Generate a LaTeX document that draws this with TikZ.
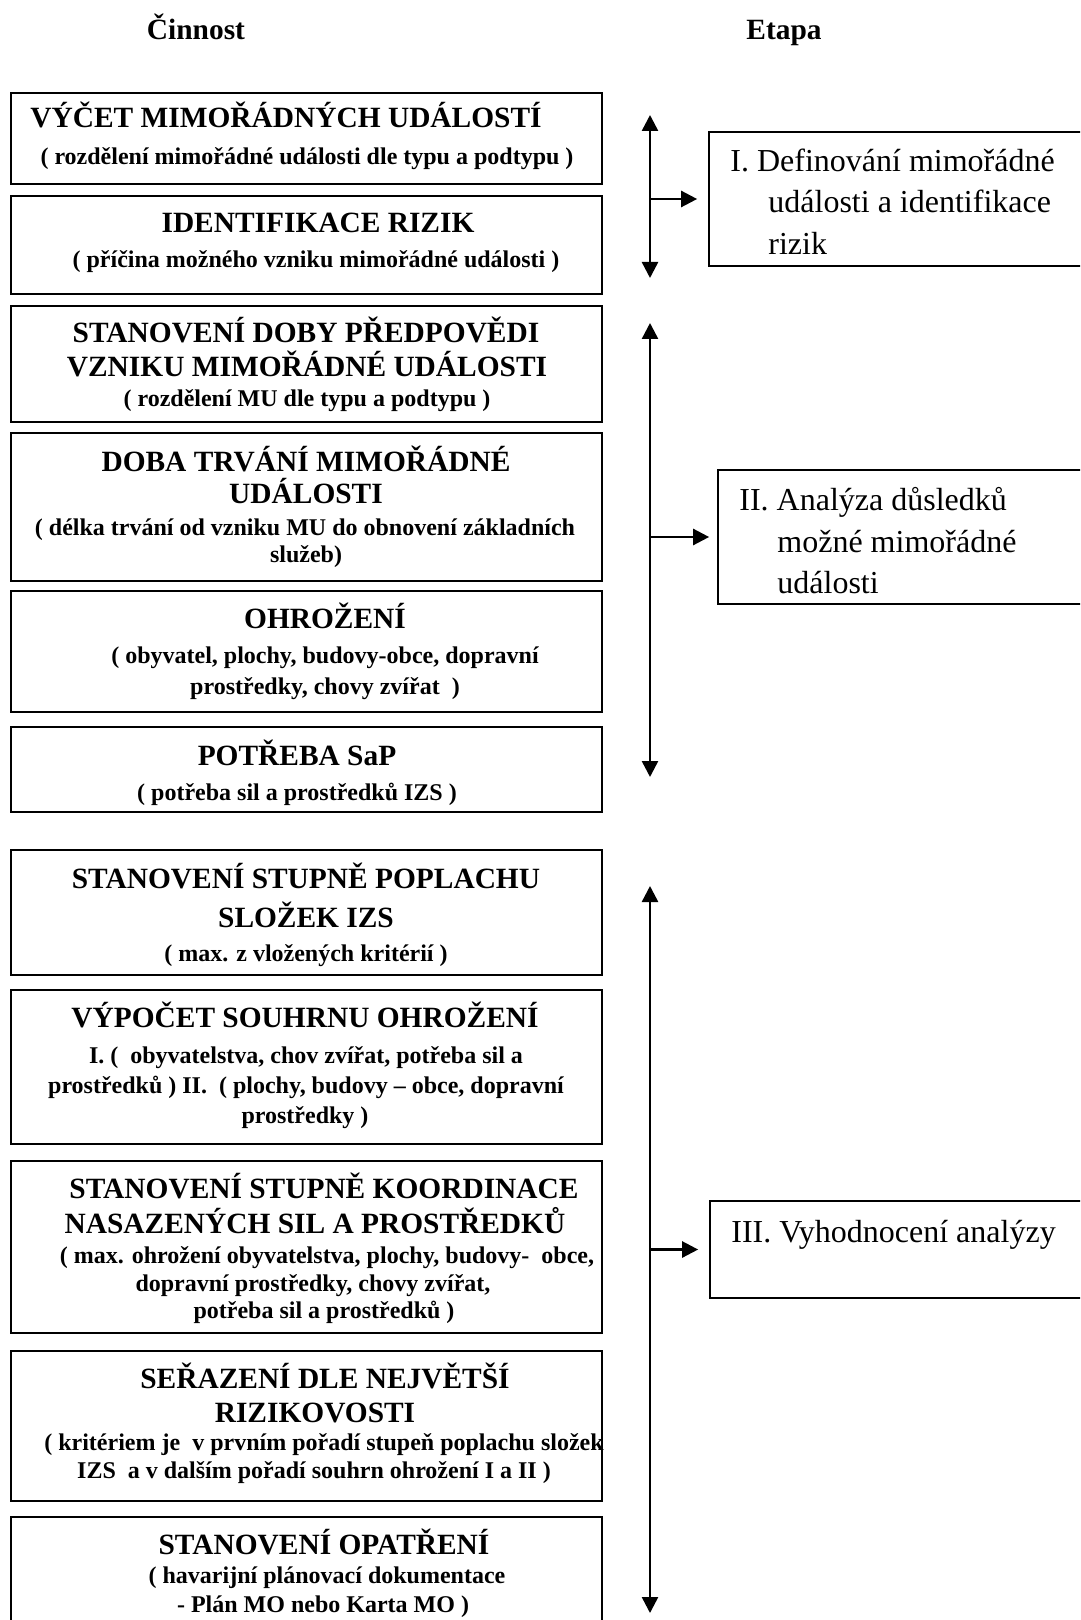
\documentclass[tikz,border=0pt]{standalone}
\usepackage{fontspec}
\setmainfont{Liberation Serif}
\usetikzlibrary{arrows.meta}
\begin{document}
\begin{tikzpicture}[x=0.5pt,y=-0.5pt,
  box/.style={draw, line width=1.1pt, inner sep=0pt, minimum width=295.5pt},
  rbox/.style={draw, line width=0.85pt, inner sep=0pt},
  ttl/.style={font=\fontsize{14.7}{17}\selectfont\bfseries, anchor=base, inner sep=0pt},
  sub/.style={font=\fontsize{12}{14}\selectfont\bfseries, anchor=base, inner sep=0pt},
  rt/.style={font=\fontsize{16}{19}\selectfont, anchor=base west, inner sep=0pt},
  arr/.style={line width=1.25pt, -{Triangle[length=8pt,width=8pt]}},
  darr/.style={line width=1.25pt, {Triangle[length=8pt,width=8pt]}-{Triangle[length=8pt,width=8pt]}},
]
\clip (0,0) rectangle (1080,1620);
\fill[white] (0,0) rectangle (1080,1620);

% headers
\node[ttl] (h1) at (196,40) {Činnost};
\node[ttl] (h2) at (784,40) {Etapa};

% left boxes
\node[box, minimum height=45.5pt] (b1) at (306.5,138.5) {};
\node[box, minimum height=49pt]   (b2) at (306.5,245) {};
\node[box, minimum height=58pt]   (b3) at (306.5,364) {};
\node[box, minimum height=74pt]   (b4) at (306.5,507) {};
\node[box, minimum height=60.5pt] (b5) at (306.5,651.5) {};
\node[box, minimum height=42.5pt] (b6) at (306.5,769.5) {};
\node[box, minimum height=62.5pt] (b7) at (306.5,912.5) {};
\node[box, minimum height=77pt]   (b8) at (306.5,1067) {};
\node[box, minimum height=86pt]   (b9) at (306.5,1247) {};
\node[box, minimum height=75pt]   (b10) at (306.5,1426) {};
\node[box, minimum height=61.5pt] (b11) at (306.5,1578.5) {};

% texts box 1
\node[ttl] (t1a) at (286,128) {VÝČET MIMOŘÁDNÝCH UDÁLOSTÍ};
\node[sub] (t1b) at (307,165) {( rozdělení mimořádné události dle typu a podtypu )};
% box 2
\node[ttl] (t2a) at (318,233) {IDENTIFIKACE RIZIK};
\node[sub] (t2b) at (316,268) {( příčina možného vzniku mimořádné události )};
% box 3
\node[ttl] (t3a) at (306,343) {STANOVENÍ DOBY PŘEDPOVĚDI};
\node[ttl] (t3b) at (307,377) {VZNIKU MIMOŘÁDNÉ UDÁLOSTI};
\node[sub] (t3c) at (307,407) {( rozdělení MU dle typu a podtypu )};
% box 4
\node[ttl] (t4a) at (306,472) {DOBA TRVÁNÍ MIMOŘÁDNÉ};
\node[ttl] (t4b) at (306,503) {UDÁLOSTI};
\node[sub] (t4c) at (305,535) {( délka trvání od vzniku MU do obnovení základních};
\node[sub] (t4d) at (306,562) {služeb)};
% box 5
\node[ttl] (t5a) at (325,628) {OHROŽENÍ};
\node[sub] (t5b) at (325,663) {( obyvatel, plochy, budovy-obce, dopravní};
\node[sub] (t5c) at (325,694) {prostředky, chovy zvířat\ \ )};
% box 6
\node[ttl] (t6a) at (297,765) {POTŘEBA SaP};
\node[sub] (t6b) at (297,800) {( potřeba sil a prostředků IZS )};
% box 7
\node[ttl] (t7a) at (306,888) {STANOVENÍ STUPNĚ POPLACHU};
\node[ttl] (t7b) at (306,927) {SLOŽEK IZS};
\node[sub] (t7c) at (306,961) {( max. z vložených kritérií )};
% box 8
\node[ttl] (t8a) at (305,1027) {VÝPOČET SOUHRNU OHROŽENÍ};
\node[sub] (t8b) at (306,1063) {I. (\ \ obyvatelstva, chov zvířat, potřeba sil a};
\node[sub] (t8c) at (306,1093) {prostředků ) II.\ \ ( plochy, budovy – obce, dopravní};
\node[sub] (t8d) at (305,1123) {prostředky )};
% box 9
\node[ttl] (t9a) at (324,1198) {STANOVENÍ STUPNĚ KOORDINACE};
\node[ttl] (t9b) at (315,1233) {NASAZENÝCH SIL A PROSTŘEDKŮ};
\node[sub] (t9c) at (327,1263) {( max. ohrožení obyvatelstva, plochy, budovy-\ \ obce,};
\node[sub] (t9d) at (313,1291) {dopravní prostředky, chovy zvířat,};
\node[sub] (t9e) at (324,1318) {potřeba sil a prostředků )};
% box 10
\node[ttl] (t10a) at (325,1388) {SEŘAZENÍ DLE NEJVĚTŠÍ};
\node[ttl] (t10b) at (315,1422) {RIZIKOVOSTI};
\node[sub] (t10c) at (324,1450) {( kritériem je\ \ v prvním pořadí stupeň poplachu složek};
\node[sub] (t10d) at (314,1478) {IZS\ \ a v dalším pořadí souhrn ohrožení I a II )};
% box 11
\node[ttl] (t11a) at (324,1554) {STANOVENÍ OPATŘENÍ};
\node[sub] (t11b) at (327,1583) {( havarijní plánovací dokumentace};
\node[sub] (t11c) at (323,1612) {- Plán MO nebo Karta MO )};

% right boxes
\node[rbox, minimum width=195.5pt, minimum height=67pt] (bI) at (904.5,199) {};
\node[rbox, minimum width=191pt, minimum height=67pt] (bII) at (909,537) {};
\node[rbox, minimum width=195pt, minimum height=48.5pt] (bIII) at (905,1249.5) {};

\node[rt] (r1a) at (730,172) {I. Definování mimořádné};
\node[rt] (r1b) at (768,213) {události a identifikace};
\node[rt] (r1c) at (768,255) {rizik};
\node[rt] (r2a) at (739,510) {II. Analýza důsledků};
\node[rt] (r2b) at (777,552) {možné mimořádné};
\node[rt] (r2c) at (777,593) {události};
\node[rt] (r3a) at (731,1242) {III. Vyhodnocení analýzy};

% arrows
\coordinate (v1t) at (650,115);
\coordinate (v1b) at (650,278);
\coordinate (v2t) at (650,323);
\coordinate (v2b) at (650,777);
\coordinate (v3t) at (650,886);
\coordinate (v3b) at (650,1613);
\draw[darr] (v1t) -- (v1b);
\draw[darr] (v2t) -- (v2b);
\draw[darr] (v3t) -- (v3b);
\draw[arr, shorten >=5.5pt] (v1t |- bI.west) -- (bI.west);
\draw[arr, shorten >=4pt] (v2t |- bII.west) -- (bII.west);
\draw[arr, shorten >=5.5pt] (v3t |- bIII.west) -- (bIII.west);
\end{tikzpicture}
\end{document}
